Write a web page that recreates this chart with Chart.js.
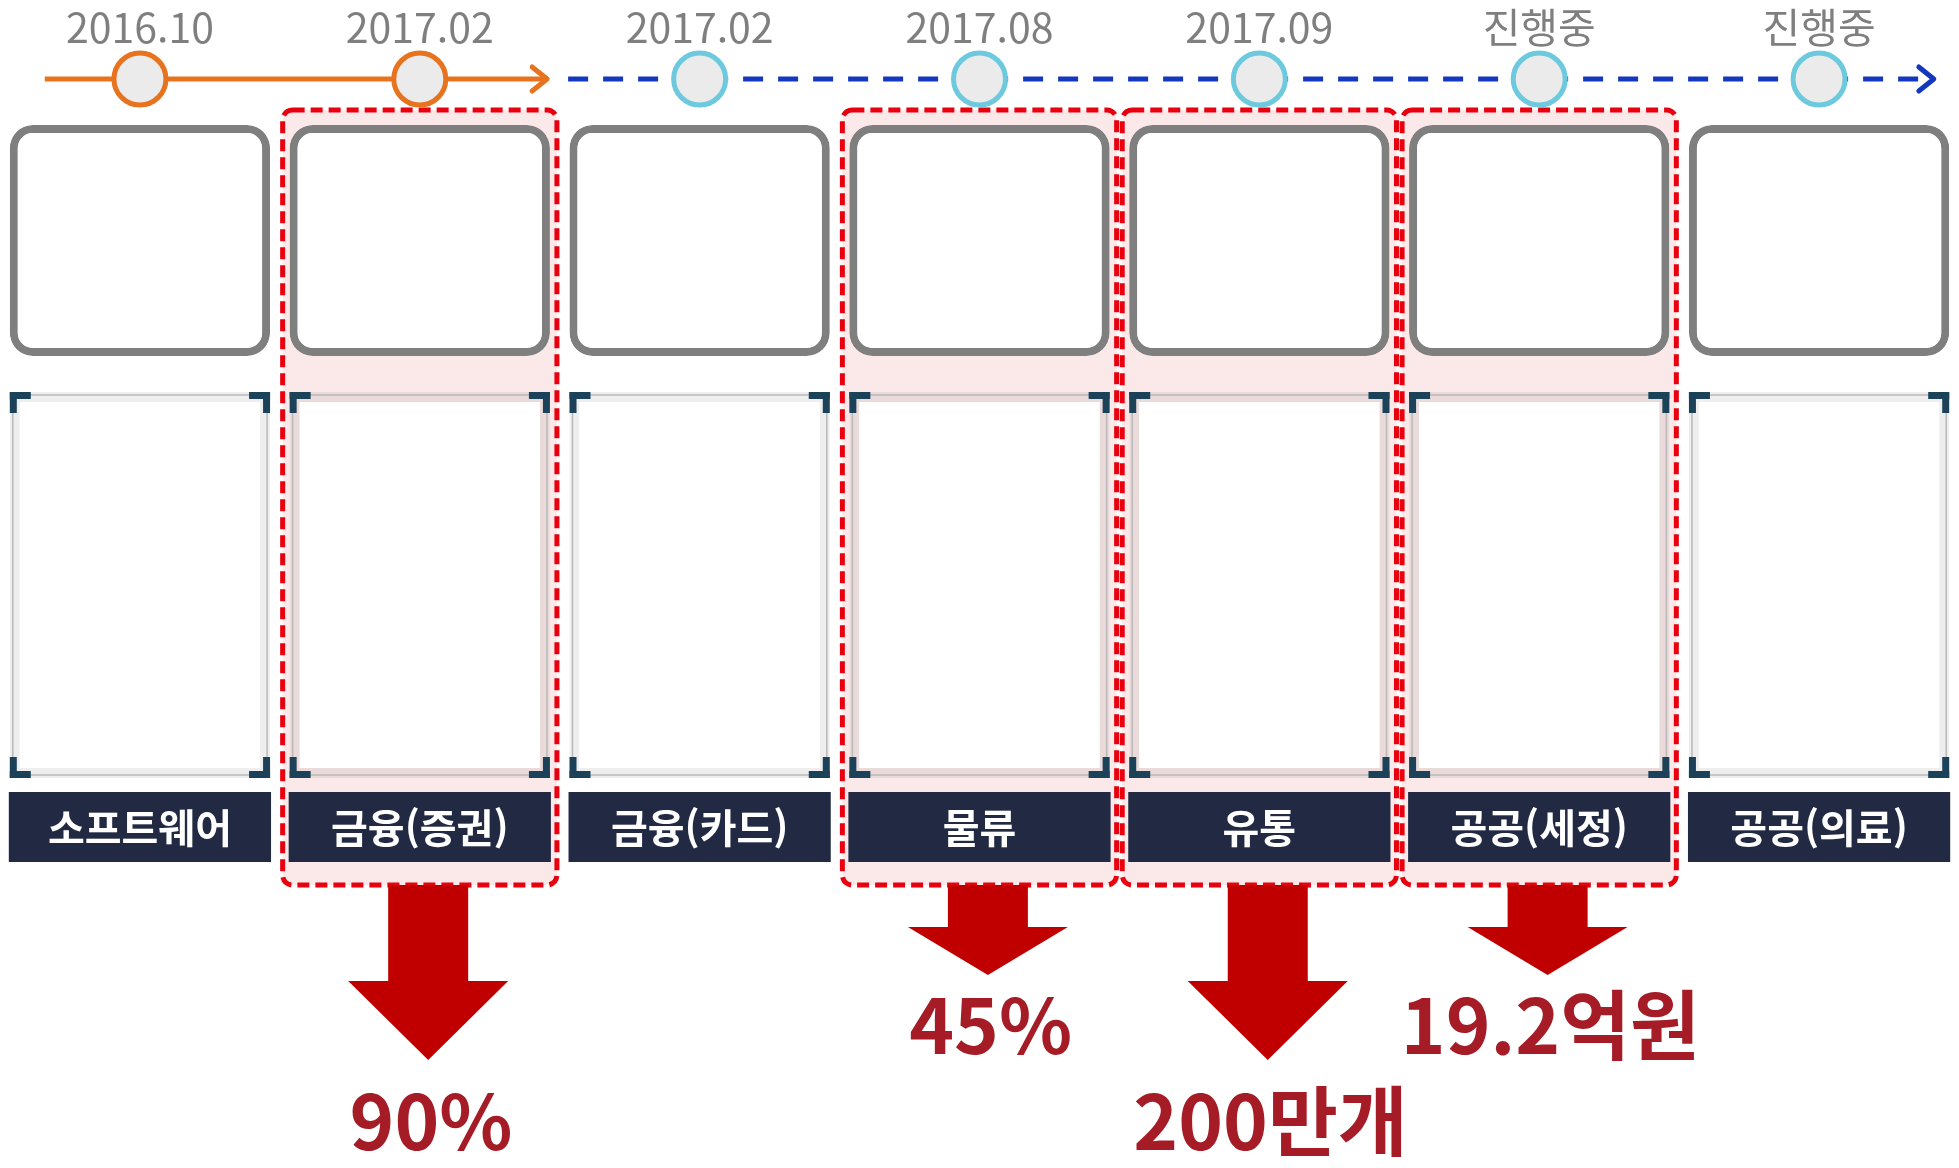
<!DOCTYPE html>
<html lang="ko">
<head>
<meta charset="utf-8">
<title>적용 사례 로드맵</title>
<script src="https://cdn.jsdelivr.net/npm/chart.js@4.4.1/dist/chart.umd.min.js"></script>
<style>
  html, body { margin: 0; padding: 0; background: #fff; overflow: hidden; }
  canvas { display: block; }
</style>
</head>
<body>
<canvas id="roadmap" width="1959" height="1168"></canvas>
<script>
const categories = ['소프트웨어', '금융(증권)', '금융(카드)', '물류', '유통', '공공(세정)', '공공(의료)'];
const milestones = ['2016.10', '2017.02', '2017.02', '2017.08', '2017.09', '진행중', '진행중'];
const completed = [true, true, false, false, false, false, false];
const highlighted = [false, true, false, true, true, true, false];
const results = [null, '90%', null, '45%', '200만개', '19.2억원', null];
const arrowSize = [null, 'long', null, 'short', 'long', 'short', null];

// layout: y in canvas px (reversed linear axis), x in column units
const FONT = '"Noto Sans CJK KR", "Noto Sans", sans-serif';
const TL_Y = 79;
const ORANGE_FROM = -0.34, ORANGE_TO = 1.455, BLUE_FROM = 1.53, BLUE_TO = 6.41;
const BOX = [125, 356], FRAME = [392, 778], LABEL = [792, 862];
const HL = { top: 110, bottom: 885, half: 0.49 };
const ARROW = {
  top: 885, stem: 40, head: 80, textShift: 0.01,
  long: { neck: 981, tip: 1060, text: 1150 },
  short: { neck: 927, tip: 975, text: 1054 }
};
const ORANGE = '#e8731f', BLUE = '#1438bd', CYAN = '#6cc9de', RED = '#c00000';

const doneIdx = categories.map((_, i) => i).filter(i => completed[i]);
const todoIdx = categories.map((_, i) => i).filter(i => !completed[i]);
const orangeData = [{ x: ORANGE_FROM, y: TL_Y }, ...doneIdx.map(i => ({ x: i, y: TL_Y })), { x: ORANGE_TO, y: TL_Y }];
const blueData = [{ x: BLUE_FROM, y: TL_Y }, ...todoIdx.map(i => ({ x: i, y: TL_Y })), { x: BLUE_TO, y: TL_Y }];
const dotRadius = n => [0, ...Array(n).fill(26), 0];

function chevron(ctx, x, y, color) {
  ctx.save();
  ctx.strokeStyle = color;
  ctx.lineWidth = 5;
  ctx.lineCap = 'round';
  ctx.lineJoin = 'round';
  ctx.beginPath();
  ctx.moveTo(x - 15, y - 12);
  ctx.lineTo(x, y);
  ctx.lineTo(x - 15, y + 12);
  ctx.stroke();
  ctx.restore();
}

const backdrop = {
  id: 'backdrop',
  beforeDatasetsDraw(chart) {
    const { ctx } = chart;
    const xs = chart.scales.xl, ys = chart.scales.y;
    highlighted.forEach((on, i) => {
      if (!on) return;
      const x0 = xs.getPixelForValue(i - HL.half), x1 = xs.getPixelForValue(i + HL.half);
      const y0 = ys.getPixelForValue(HL.top), y1 = ys.getPixelForValue(HL.bottom);
      ctx.save();
      ctx.beginPath();
      ctx.roundRect(x0, y0, x1 - x0, y1 - y0, 10);
      ctx.fillStyle = '#fbe9e9';
      ctx.fill();
      ctx.setLineDash([12, 6]);
      ctx.lineWidth = 5;
      ctx.strokeStyle = '#e8000f';
      ctx.stroke();
      ctx.restore();
    });
  }
};

const overlay = {
  id: 'overlay',
  afterDatasetsDraw(chart) {
    const { ctx } = chart;
    const xs = chart.scales.xl, ys = chart.scales.y;

    // frame outlines and corner brackets
    chart.getDatasetMeta(1).data.forEach(el => {
      const l = el.x - el.width / 2, r = el.x + el.width / 2;
      const t = Math.min(el.y, el.base), b = Math.max(el.y, el.base);
      ctx.save();
      ctx.strokeStyle = '#b9b9b9';
      ctx.lineWidth = 1.5;
      ctx.strokeRect(l + 3, t + 3, r - l - 6, b - t - 6);
      ctx.fillStyle = '#1b4258';
      const a = 21, w = 7;
      ctx.fillRect(l, t, a, w); ctx.fillRect(l, t, w, a);
      ctx.fillRect(r - a, t, a, w); ctx.fillRect(r - w, t, w, a);
      ctx.fillRect(l, b - w, a, w); ctx.fillRect(l, b - a, w, a);
      ctx.fillRect(r - a, b - w, a, w); ctx.fillRect(r - w, b - a, w, a);
      ctx.restore();
    });

    // category names
    ctx.save();
    ctx.fillStyle = '#ffffff';
    ctx.font = 'bold 40px ' + FONT;
    ctx.textAlign = 'center';
    ctx.textBaseline = 'middle';
    chart.getDatasetMeta(2).data.forEach((el, i) => {
      ctx.fillText(categories[i], el.x, (el.y + el.base) / 2 + 1);
    });
    ctx.restore();

    // milestone dates
    ctx.save();
    ctx.fillStyle = '#7f7f7f';
    ctx.font = '400 41px ' + FONT;
    ctx.textAlign = 'center';
    ctx.textBaseline = 'alphabetic';
    milestones.forEach((d, i) => {
      ctx.fillText(d, xs.getPixelForValue(i), ys.getPixelForValue(43));
    });
    ctx.restore();

    // timeline arrowheads
    const om = chart.getDatasetMeta(3).data, bm = chart.getDatasetMeta(4).data;
    chevron(ctx, om[om.length - 1].x, om[om.length - 1].y, ORANGE);
    chevron(ctx, bm[bm.length - 1].x, bm[bm.length - 1].y, BLUE);

    // result arrows and figures
    results.forEach((txt, i) => {
      if (!txt) return;
      const s = ARROW[arrowSize[i]];
      const cx = xs.getPixelForValue(i + 0.03);
      const top = ys.getPixelForValue(ARROW.top), neck = ys.getPixelForValue(s.neck), tip = ys.getPixelForValue(s.tip);
      ctx.save();
      ctx.fillStyle = RED;
      ctx.beginPath();
      ctx.moveTo(cx - ARROW.stem, top);
      ctx.lineTo(cx + ARROW.stem, top);
      ctx.lineTo(cx + ARROW.stem, neck);
      ctx.lineTo(cx + ARROW.head, neck);
      ctx.lineTo(cx, tip);
      ctx.lineTo(cx - ARROW.head, neck);
      ctx.lineTo(cx - ARROW.stem, neck);
      ctx.closePath();
      ctx.fill();
      ctx.fillStyle = '#a51c26';
      ctx.font = 'bold 76px ' + FONT;
      ctx.textAlign = 'center';
      ctx.textBaseline = 'alphabetic';
      ctx.fillText(txt, xs.getPixelForValue(i + 0.03 + ARROW.textShift), ys.getPixelForValue(s.text));
      ctx.restore();
    });
  }
};

new Chart(document.getElementById('roadmap'), {
  type: 'bar',
  data: {
    labels: categories,
    datasets: [
      {
        label: 'box', data: categories.map(() => BOX), order: 6, grouped: false,
        backgroundColor: '#ffffff', borderColor: '#7f7f7f', borderWidth: 8, borderRadius: 23,
        borderSkipped: false, barPercentage: 0.93, categoryPercentage: 1
      },
      {
        label: 'frame', data: categories.map(() => FRAME), order: 5, grouped: false,
        backgroundColor: '#ffffff', borderColor: 'rgba(120,120,120,0.13)', borderWidth: 10,
        borderSkipped: false, barPercentage: 0.93, categoryPercentage: 1
      },
      {
        label: 'label', data: categories.map(() => LABEL), order: 4, grouped: false,
        backgroundColor: '#212943', borderWidth: 0,
        barPercentage: 0.937, categoryPercentage: 1
      },
      {
        type: 'line', label: 'done', data: orangeData, xAxisID: 'xl', order: 1,
        borderColor: ORANGE, borderWidth: 5, pointRadius: dotRadius(doneIdx.length),
        pointHoverRadius: dotRadius(doneIdx.length), pointBackgroundColor: '#ebebeb',
        pointBorderColor: ORANGE, pointBorderWidth: 5, fill: false, tension: 0
      },
      {
        type: 'line', label: 'planned', data: blueData, xAxisID: 'xl', order: 2,
        borderColor: BLUE, borderWidth: 5, borderDash: [20, 15], pointRadius: dotRadius(todoIdx.length),
        pointHoverRadius: dotRadius(todoIdx.length), pointBackgroundColor: '#ebebeb',
        pointBorderColor: CYAN, pointBorderWidth: 5, fill: false, tension: 0
      }
    ]
  },
  options: {
    responsive: false,
    animation: false,
    events: [],
    layout: { padding: 0 },
    scales: {
      x: { type: 'category', offset: true, display: false },
      xl: { type: 'linear', min: -0.5, max: 6.5, offset: false, grid: { offset: false }, display: false },
      y: { type: 'linear', min: 0, max: 1168, reverse: true, display: false }
    },
    plugins: { legend: { display: false }, tooltip: { enabled: false } }
  },
  plugins: [backdrop, overlay]
});
</script>
</body>
</html>
